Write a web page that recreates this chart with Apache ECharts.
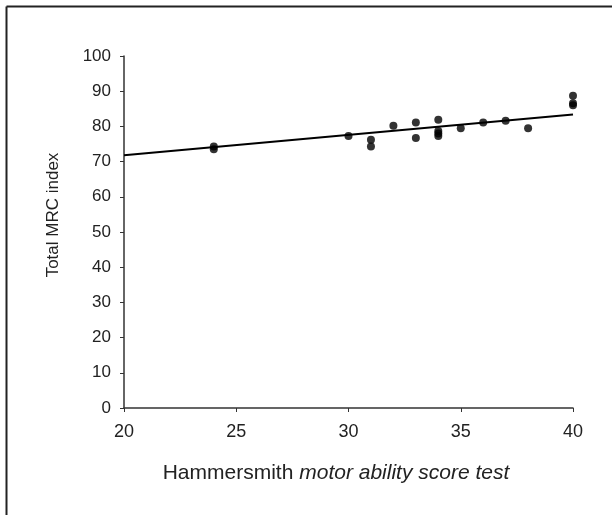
<!DOCTYPE html>
<html>
<head>
<meta charset="utf-8">
<script src="https://cdn.jsdelivr.net/npm/echarts@6/dist/echarts.min.js"></script>
<style>
html,body{margin:0;padding:0;background:#fff;}
#chart{width:612px;height:515px;}
</style>
</head>
<body>
<div id="chart"></div>
<script>
// Data
const hammersmith = [24, 24, 30, 31, 31, 32, 33, 33, 34, 34, 34, 34, 35, 36, 37, 38, 40, 40, 40];
const mrcIndex    = [74.3, 73.5, 77.3, 76.2, 74.3, 80.2, 81.1, 76.7, 81.9, 78.7, 78.0, 77.3, 79.5, 81.1, 81.6, 79.5, 88.7, 86.6, 86.0];
const trendX = [20, 40];
const trendY = [71.8, 83.4];
const xTicks = [20, 25, 30, 35, 40];
const yTicks = [0, 10, 20, 30, 40, 50, 60, 70, 80, 90, 100];

const chart = echarts.init(document.getElementById('chart'));
const font = '"Liberation Sans", Arial, sans-serif';
chart.setOption({
  animation: false,
  backgroundColor: '#fff',
  grid: { left: 124, right: 39, top: 56, bottom: 107, containLabel: false },
  xAxis: {
    type: 'value', min: xTicks[0], max: xTicks[xTicks.length - 1], interval: 5,
    axisLine: { lineStyle: { color: '#333', width: 1.5 } },
    axisTick: { show: true, length: 4, lineStyle: { color: '#333' } },
    axisLabel: { color: '#222', fontSize: 18, fontFamily: font, margin: 15 },
    splitLine: { show: false }
  },
  yAxis: {
    type: 'value', min: yTicks[0], max: yTicks[yTicks.length - 1], interval: 10,
    axisLine: { show: true, lineStyle: { color: '#333', width: 1.5 } },
    axisTick: { show: true, length: 4, lineStyle: { color: '#333' } },
    axisLabel: { color: '#222', fontSize: 17, fontFamily: font, margin: 13 },
    splitLine: { show: false }
  },
  series: [
    {
      type: 'line',
      data: trendX.map((x, i) => [x, trendY[i]]),
      showSymbol: false,
      lineStyle: { color: '#000', width: 2 },
      z: 2
    },
    {
      type: 'scatter',
      data: hammersmith.map((x, i) => [x, mrcIndex[i]]),
      symbol: 'circle',
      symbolSize: 8,
      itemStyle: { color: '#000' },
      z: 3
    }
  ],
  graphic: [
    { type: 'line', shape: { x1: 6.5, y1: 6.5, x2: 612, y2: 6.5 }, style: { stroke: '#222', lineWidth: 2 } },
    { type: 'line', shape: { x1: 6.5, y1: 6.5, x2: 6.5, y2: 515 }, style: { stroke: '#222', lineWidth: 2 } },
    {
      type: 'text',
      style: {
        text: '{r|Hammersmith }{i|motor ability score test}',
        rich: {
          r: { fontSize: 21, fontFamily: font, fill: '#222' },
          i: { fontSize: 21, fontFamily: font, fontStyle: 'italic', fill: '#222' }
        },
        x: 336, y: 473, align: 'center', verticalAlign: 'middle'
      }
    },
    {
      type: 'text', x: 53, y: 215, rotation: Math.PI / 2,
      style: {
        text: 'Total MRC index', fontSize: 17, fontFamily: font, fill: '#222',
        align: 'center', verticalAlign: 'middle'
      }
    }
  ]
});
</script>
</body>
</html>
